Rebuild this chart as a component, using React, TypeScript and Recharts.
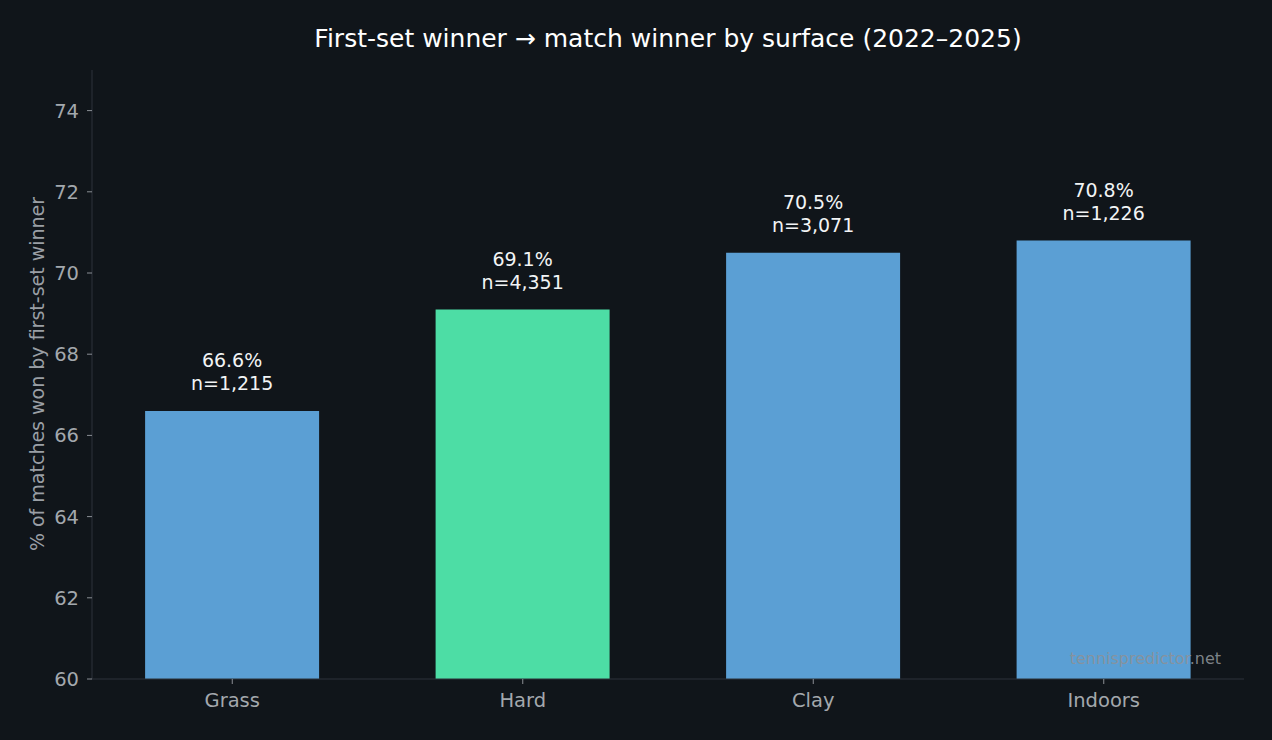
import React from "react"
import { BarChart, Bar, XAxis, YAxis, Cell, LabelList } from "recharts"

const surfaces = ["Grass", "Hard", "Clay", "Indoors"]
const winPct = [66.6, 69.1, 70.5, 70.8]
const matchCounts = [1215, 4351, 3071, 1226]
const highlighted = ["Hard"]
const yTicks = [60, 62, 64, 66, 68, 70, 72, 74]

const BG = "#10151a"
const BLUE = "#5b9fd4"
const GREEN = "#4ddda5"
const AXIS = "#2c323a"
const TICK_TEXT = "#a3a8ad"
const FONT = "DejaVu Sans, sans-serif"

const data = surfaces.map((s, i) => ({ surface: s, pct: winPct[i], n: matchCounts[i] }))

function BarLabel(props: any) {
  const { x, y, width, index } = props
  const cx = x + width / 2
  const d = data[index]
  return (
    <text x={cx} textAnchor="middle" fill="#f2f4f5" fontSize={19} fontFamily={FONT}>
      <tspan x={cx} y={y - 44}>{d.pct.toFixed(1)}%</tspan>
      <tspan x={cx} y={y - 21}>n={d.n.toLocaleString("en-US")}</tspan>
    </text>
  )
}

export default function App() {
  return (
    <div style={{ position: "absolute", left: 0, top: 0, width: 1272, height: 740, background: BG }}>
      <BarChart
        width={1272}
        height={740}
        data={data}
        margin={{ top: 70, right: 28, bottom: 0, left: 0 }}
        barCategoryGap="20%"
      >
        <XAxis
          dataKey="surface"
          height={61}
          padding={{ left: -5, right: -5 }}
          stroke={AXIS}
          tick={{ fill: TICK_TEXT, fontSize: 19.5, fontFamily: FONT }}
          tickLine={{ stroke: "#8a8f95" }}
          tickSize={5}
          tickMargin={9}
        />
        <YAxis
          width={92}
          domain={[60, 75]}
          ticks={yTicks}
          allowDataOverflow
          stroke={AXIS}
          tick={{ fill: TICK_TEXT, fontSize: 19.5, fontFamily: FONT }}
          tickLine={{ stroke: "#8a8f95" }}
          tickSize={5}
          tickMargin={8}
        />
        <Bar dataKey="pct" isAnimationActive={false}>
          {data.map((d) => (
            <Cell key={d.surface} fill={highlighted.includes(d.surface) ? GREEN : BLUE} />
          ))}
          <LabelList dataKey="pct" content={BarLabel} />
        </Bar>
      </BarChart>
      <svg
        width={1272}
        height={740}
        style={{ position: "absolute", left: 0, top: 0, pointerEvents: "none" }}
      >
        <text x={668} y={47} textAnchor="middle" fill="#ffffff" fontSize={25} fontFamily={FONT}>
          First-set winner → match winner by surface (2022–2025)
        </text>
        <text
          x={0}
          y={0}
          transform="translate(44,374) rotate(-90)"
          textAnchor="middle"
          fill="#9a9fa5"
          fontSize={19}
          fontFamily={FONT}
        >
          % of matches won by first-set winner
        </text>
        {/* watermark */}
        <text
          x={1221}
          y={664}
          textAnchor="end"
          fill="#8c9197"
          fillOpacity={0.9}
          fontSize={16}
          fontFamily={FONT}
        >
          tennispredictor.net
        </text>
      </svg>
    </div>
  )
}
